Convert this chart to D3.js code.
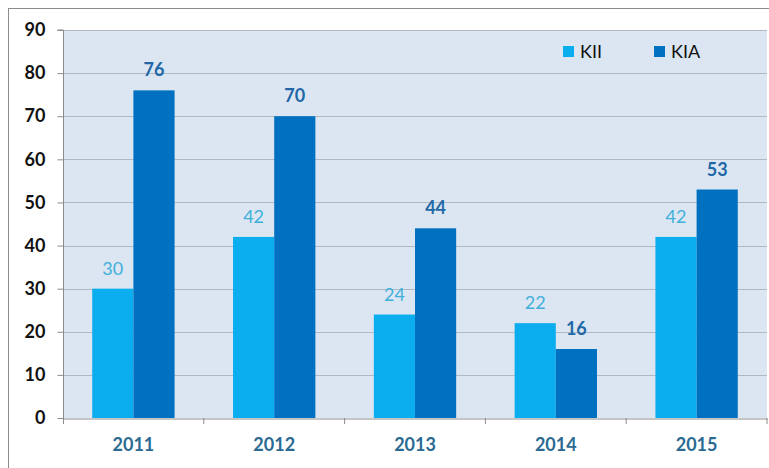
<head>
<script src="https://d3js.org/d3.v7.min.js" charset="utf-8"></script>
</head>
<body>
<div id="chart"></div>
<style>
  body {margin:0;background:#fff;}
  svg text {font-family: Lato, "Open Sans", sans-serif;}
</style>
<script>
const years = ["2011", "2012", "2013", "2014", "2015"];
const kii = [30, 42, 24, 22, 42];
const kia = [76, 70, 44, 16, 53];
const seriesNames = ["KII", "KIA"];
const yTicks = [0, 10, 20, 30, 40, 50, 60, 70, 80, 90];

const width = 769, height = 468;
const margin = {top: 30, right: 2, bottom: 50, left: 63};

const colors = {KII: "#0AAEEF", KIA: "#0070C0"};
const labelColors = {KII: "#40B0DA", KIA: "#2268A6"};

const svg = d3.select("#chart").append("svg")
    .attr("width", width)
    .attr("height", height);

// outer frame
svg.append("rect")
    .attr("x", 8.5).attr("y", 8.5)
    .attr("width", 780).attr("height", 500)
    .attr("fill", "none")
    .attr("stroke", "#8c8c8c");

const x = d3.scaleBand()
    .domain(years)
    .range([margin.left, width - margin.right])
    .paddingInner(0).paddingOuter(0);

const x1 = d3.scaleBand()
    .domain(seriesNames)
    .range([0, x.bandwidth()])
    .paddingInner(0)
    .paddingOuter(0.71);

const y = d3.scaleLinear()
    .domain([0, 90])
    .range([height - margin.bottom, margin.top]);

// plot background
svg.append("rect")
    .attr("x", margin.left).attr("y", margin.top)
    .attr("width", width - margin.right - margin.left)
    .attr("height", y(0) - margin.top)
    .attr("fill", "#DCE6F2");

// gridlines
svg.append("g")
    .selectAll("line")
    .data(yTicks.slice(1))
    .join("line")
    .attr("x1", margin.left).attr("x2", width - margin.right)
    .attr("y1", d => Math.round(y(d)) + 0.5).attr("y2", d => Math.round(y(d)) + 0.5)
    .attr("stroke", "#B0B8C2")
    .attr("stroke-width", 1);

// bars
const data = years.map((yr, i) => ({year: yr, vals: [
  {key: "KII", v: kii[i]}, {key: "KIA", v: kia[i]}]}));

const groups = svg.append("g").selectAll("g")
    .data(data).join("g")
    .attr("transform", d => `translate(${x(d.year)},0)`);

groups.selectAll("rect")
    .data(d => d.vals).join("rect")
    .attr("x", d => x1(d.key))
    .attr("width", x1.bandwidth())
    .attr("y", d => y(d.v))
    .attr("height", d => y(0) - y(d.v))
    .attr("fill", d => colors[d.key]);

groups.selectAll("text")
    .data(d => d.vals).join("text")
    .attr("x", d => x1(d.key) + x1.bandwidth() / 2)
    .attr("y", d => y(d.v) - 14)
    .attr("text-anchor", "middle")
    .attr("font-size", 18)
    .attr("font-weight", d => d.key === "KIA" ? "bold" : "normal")
    .attr("fill", d => labelColors[d.key])
    .text(d => d.v);

// y axis
const yAxis = svg.append("g")
    .attr("transform", `translate(${margin.left + 0.5},0)`)
    .call(d3.axisLeft(y).tickValues(yTicks).tickSize(6).tickPadding(12));
yAxis.select(".domain").attr("stroke", "#8c8c8c").attr("d", `M-6,${margin.top}H0V${y(0) + 6}`);
yAxis.selectAll(".tick line").attr("stroke", "#8c8c8c");
yAxis.selectAll(".tick text")
    .attr("font-size", 18).attr("font-weight", "bold").attr("fill", "#111")
    .style("font-family", "Lato, sans-serif");

// x axis
const xAxis = svg.append("g")
    .attr("transform", `translate(0,${Math.round(y(0)) + 0.5})`)
    .call(d3.axisBottom(x).tickSize(0).tickPadding(20));
xAxis.select(".domain").attr("stroke", "#8c8c8c");
xAxis.selectAll(".tick text")
    .attr("font-size", 18).attr("font-weight", "bold").attr("fill", "#2A6A93")
    .style("font-family", "Lato, sans-serif");
// category boundary ticks
svg.append("g").selectAll("line")
    .data(years.slice(1).concat(["end"]))
    .join("line")
    .attr("x1", d => d === "end" ? width - margin.right : x(d))
    .attr("x2", d => d === "end" ? width - margin.right : x(d))
    .attr("y1", y(0)).attr("y2", y(0) + 6)
    .attr("stroke", "#8c8c8c");

// legend
const legend = svg.append("g").selectAll("g")
    .data(seriesNames).join("g")
    .attr("transform", (d, i) => `translate(${563 + i * 91},46)`);
legend.append("rect")
    .attr("width", 11).attr("height", 11)
    .attr("fill", d => colors[d]);
legend.append("text")
    .attr("x", 17).attr("y", 11.5)
    .attr("font-size", 18)
    .attr("fill", "#111")
    .text(d => d);
</script>
</body>
